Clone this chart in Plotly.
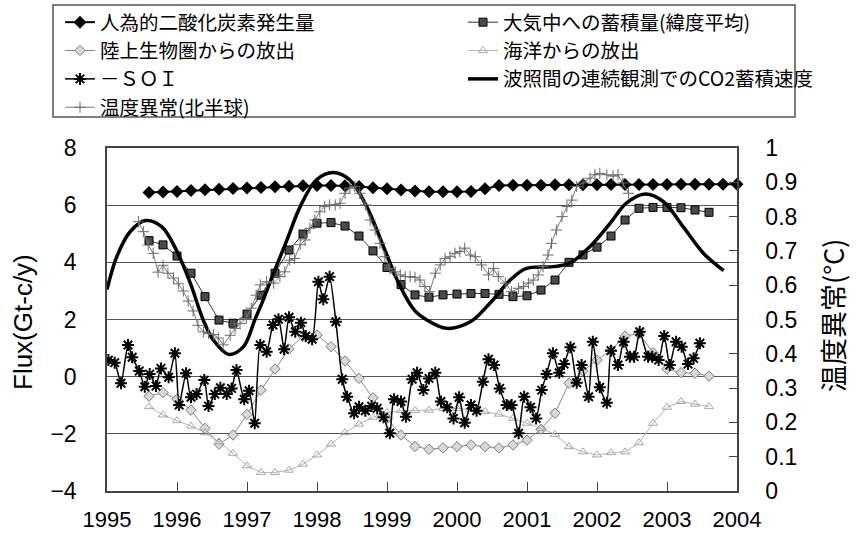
import plotly.graph_objects as go

# ---------------- data ----------------
# decimal-year sampling used by the budget series
years_anthro = [1995.6, 1995.8, 1996.0, 1996.2, 1996.4, 1996.6, 1996.8, 1997.0, 1997.2, 1997.4,
                1997.6, 1997.8, 1998.0, 1998.2, 1998.4, 1998.6, 1998.8, 1999.0, 1999.2, 1999.4,
                1999.6, 1999.8, 2000.0, 2000.2, 2000.4, 2000.6, 2000.8, 2001.0, 2001.2, 2001.4,
                2001.6, 2001.8, 2002.0, 2002.2, 2002.4, 2002.6, 2002.8, 2003.0, 2003.2, 2003.4,
                2003.6, 2003.8, 2004.0]
anthro = [6.44, 6.46, 6.48, 6.51, 6.54, 6.56, 6.58, 6.60, 6.62, 6.64,
          6.66, 6.68, 6.69, 6.69, 6.68, 6.65, 6.61, 6.57, 6.53, 6.50,
          6.47, 6.47, 6.47, 6.48, 6.57, 6.69, 6.70, 6.70, 6.70, 6.71,
          6.71, 6.71, 6.71, 6.72, 6.72, 6.72, 6.72, 6.72, 6.73, 6.73,
          6.73, 6.73, 6.73]

years_budget = [1995.6, 1995.8, 1996.0, 1996.2, 1996.4, 1996.6, 1996.8, 1997.0, 1997.2, 1997.4,
                1997.6, 1997.8, 1998.0, 1998.2, 1998.4, 1998.6, 1998.8, 1999.0, 1999.2, 1999.4,
                1999.6, 1999.8, 2000.0, 2000.2, 2000.4, 2000.6, 2000.8, 2001.0, 2001.2, 2001.4,
                2001.6, 2001.8, 2002.0, 2002.2, 2002.4, 2002.6, 2002.8, 2003.0, 2003.2, 2003.4,
                2003.6]
atmos = [4.76, 4.61, 4.22, 3.62, 2.80, 1.98, 1.87, 2.19, 2.85, 3.62,
         4.43, 4.99, 5.37, 5.39, 5.27, 4.92, 4.40, 3.82, 3.22, 2.86,
         2.78, 2.86, 2.89, 2.91, 2.91, 2.88, 2.80, 2.83, 3.03, 3.38,
         4.00, 4.26, 4.53, 4.92, 5.48, 5.89, 5.92, 5.92, 5.91, 5.83,
         5.75]
land = [-0.68, -0.56, -0.79, -1.17, -1.81, -2.36, -2.04, -1.32, -0.47, 0.27,
        0.97, 1.42, 1.46, 1.05, 0.55, -0.06, -0.74, -1.46, -2.04, -2.44,
        -2.54, -2.49, -2.45, -2.39, -2.45, -2.49, -2.39, -2.22, -1.84, -1.28,
        -0.23, 0.20, 0.58, 0.93, 1.42, 1.51, 0.84, 0.27, 0.14, 0.12,
        0.02]
ocean = [-1.05, -1.34, -1.54, -1.73, -1.96, -2.28, -2.68, -3.12, -3.35, -3.35,
         -3.27, -3.06, -2.74, -2.36, -1.96, -1.66, -1.42, -1.26, -1.19, -1.18,
         -1.17, -1.11, -1.11, -1.15, -1.22, -1.31, -1.46, -1.63, -1.81, -2.02,
         -2.45, -2.63, -2.74, -2.66, -2.63, -2.31, -1.63, -1.07, -0.87, -0.96,
         -1.05]

# -SOI index
years_soi = [1995.02, 1995.11, 1995.20, 1995.30, 1995.36, 1995.46, 1995.54, 1995.61, 1995.70, 1995.77,
             1995.88, 1995.97, 1996.03, 1996.13, 1996.20, 1996.28, 1996.39, 1996.45, 1996.54, 1996.62,
             1996.71, 1996.78, 1996.85, 1996.96, 1997.03, 1997.11, 1997.19, 1997.28, 1997.37, 1997.45,
             1997.53, 1997.60, 1997.69, 1997.77, 1997.84, 1997.93, 1998.02, 1998.09, 1998.18, 1998.27,
             1998.36, 1998.43, 1998.53, 1998.60, 1998.69, 1998.78, 1998.86, 1998.95, 1999.04, 1999.10,
             1999.20, 1999.27, 1999.36, 1999.43, 1999.52, 1999.60, 1999.69, 1999.77, 1999.86, 1999.95,
             2000.03, 2000.11, 2000.20, 2000.28, 2000.37, 2000.45, 2000.53, 2000.61, 2000.71, 2000.78,
             2000.88, 2000.96, 2001.05, 2001.13, 2001.21, 2001.28, 2001.37, 2001.46, 2001.53, 2001.62,
             2001.71, 2001.78, 2001.88, 2001.94, 2002.04, 2002.14, 2002.20, 2002.30, 2002.38, 2002.47,
             2002.53, 2002.61, 2002.73, 2002.79, 2002.88, 2002.96, 2003.04, 2003.13, 2003.21, 2003.30,
             2003.38, 2003.47]
soi = [0.58, 0.49, -0.23, 1.11, 0.68, 0.20, -0.35, 0.09, -0.33, 0.29,
       -0.02, 0.82, -0.99, 0.12, -0.72, -0.61, -0.12, -1.03, -0.61, -0.39,
       -0.61, -0.41, 0.23, -0.79, -0.49, -1.63, 1.11, 0.87, 1.81, 2.01,
       0.96, 2.08, 1.57, 1.89, 1.42, 1.31, 3.32, 2.71, 3.50, 1.92,
       -0.09, -0.70, -1.28, -1.05, -1.19, -1.03, -1.11, -1.42, -1.98, -0.79,
       -0.87, -1.40, -0.09, 0.14, -0.47, -0.06, 0.14, -0.87, -1.07, -1.46,
       -0.72, -1.61, -0.99, -1.19, -0.18, 0.61, 0.41, -0.41, -0.99, -0.99,
       -1.98, -0.70, -1.07, -1.46, -0.47, 0.09, 0.82, 0.14, 0.44, 1.03,
       -0.21, 0.41, -0.70, 1.22, -0.37, -0.91, 0.91, 0.41, 1.22, 0.70,
       0.70, 1.57, 0.70, 0.70, 0.58, 1.42, 0.41, 1.22, 1.05, 0.44,
       0.64, 1.17]

# CO2 accumulation rate from continuous observation at Hateruma
years_hat = [1995.0, 1995.14, 1995.33, 1995.55, 1995.78, 1995.99, 1996.19, 1996.38, 1996.52, 1996.74,
             1996.95, 1997.11, 1997.23, 1997.38, 1997.57, 1997.76, 1997.99, 1998.23, 1998.47, 1998.71,
             1998.95, 1999.19, 1999.40, 1999.57, 1999.85, 2000.19, 2000.47, 2000.76, 2000.99, 2001.38,
             2001.61, 2001.90, 2002.19, 2002.42, 2002.69, 2002.95, 2003.23, 2003.52, 2003.81]
hateruma = [3.05, 4.20, 5.07, 5.46, 5.25, 4.43, 3.27, 1.95, 1.28, 0.78,
            1.05, 1.98, 2.68, 3.62, 4.78, 5.95, 6.88, 7.14, 6.88, 5.95,
            4.55, 3.15, 2.30, 1.98, 1.69, 1.92, 2.57, 3.38, 3.79, 3.85,
            3.97, 4.55, 5.37, 6.07, 6.39, 6.12, 5.25, 4.32, 3.71]

# Northern hemisphere temperature anomaly (degC, right axis)
years_temp = [1995.45, 1995.52, 1995.59, 1995.66, 1995.73, 1995.80, 1995.87, 1995.95, 1996.02, 1996.09,
              1996.16, 1996.23, 1996.30, 1996.38, 1996.45, 1996.52, 1996.59, 1996.66, 1996.76, 1996.83,
              1996.90, 1996.99, 1997.06, 1997.13, 1997.19, 1997.28, 1997.38, 1997.47, 1997.54, 1997.61,
              1997.68, 1997.76, 1997.83, 1997.90, 1997.97, 1998.04, 1998.11, 1998.18, 1998.26, 1998.33,
              1998.40, 1998.47, 1998.54, 1998.61, 1998.69, 1998.76, 1998.83, 1998.90, 1998.97, 1999.04,
              1999.12, 1999.19, 1999.26, 1999.33, 1999.40, 1999.47, 1999.54, 1999.61, 1999.69, 1999.76,
              1999.83, 1999.90, 1999.97, 2000.04, 2000.11, 2000.19, 2000.26, 2000.35, 2000.45, 2000.52,
              2000.59, 2000.69, 2000.78, 2000.88, 2000.95, 2001.02, 2001.09, 2001.16, 2001.23, 2001.30,
              2001.35, 2001.42, 2001.50, 2001.57, 2001.64, 2001.71, 2001.80, 2001.90, 2001.97, 2002.04,
              2002.14, 2002.23, 2002.30, 2002.37, 2002.45]
temp = [0.785, 0.756, 0.717, 0.693, 0.638, 0.658, 0.635, 0.621, 0.604, 0.583,
        0.554, 0.525, 0.483, 0.464, 0.459, 0.456, 0.446, 0.426, 0.454, 0.474,
        0.488, 0.504, 0.533, 0.571, 0.601, 0.610, 0.606, 0.625, 0.639, 0.673,
        0.678, 0.718, 0.732, 0.766, 0.790, 0.814, 0.829, 0.834, 0.834, 0.839,
        0.868, 0.883, 0.888, 0.868, 0.834, 0.790, 0.761, 0.722, 0.683, 0.649,
        0.639, 0.630, 0.625, 0.625, 0.623, 0.615, 0.596, 0.581, 0.635, 0.659,
        0.678, 0.683, 0.693, 0.698, 0.708, 0.688, 0.683, 0.659, 0.630, 0.649,
        0.625, 0.606, 0.581, 0.591, 0.596, 0.606, 0.615, 0.630, 0.654, 0.688,
        0.722, 0.761, 0.800, 0.829, 0.848, 0.888, 0.898, 0.912, 0.922, 0.926,
        0.922, 0.918, 0.922, 0.898, 0.868]

names = ["人為的二酸化炭素発生量", "大気中への蓄積量(緯度平均)", "陸上生物圏からの放出",
         "海洋からの放出", "－ＳＯＩ", "波照間の連続観測でのCO2蓄積速度", "温度異常(北半球)"]

# ---------------- figure ----------------
W, H = 856, 537
ML, MR, MT, MB = 107, 119, 148, 46
PW, PH = W - ML - MR, H - MT - MB


def px_x(p):
    return (p - ML) / PW


def px_y(p):
    return (H - MB - p) / PH


fig = go.Figure()

fig.add_trace(go.Scatter(
    x=years_anthro, y=anthro, name=names[0], mode="lines+markers", cliponaxis=False,
    line=dict(color="black", width=2),
    marker=dict(symbol="diamond", size=10, color="black"),
    legend="legend"))
fig.add_trace(go.Scatter(
    x=years_budget, y=atmos, name=names[1], mode="lines+markers",
    line=dict(color="#333333", width=1),
    marker=dict(symbol="square", size=8, color="#4a4a4a", line=dict(color="black", width=1)),
    legend="legend2"))
fig.add_trace(go.Scatter(
    x=years_budget, y=land, name=names[2], mode="lines+markers",
    line=dict(color="#8a8a8a", width=1),
    marker=dict(symbol="diamond", size=8, color="#d8d8d8", line=dict(color="#7a7a7a", width=1)),
    legend="legend"))
fig.add_trace(go.Scatter(
    x=years_budget, y=ocean, name=names[3], mode="lines+markers",
    line=dict(color="#b4b4b4", width=1),
    marker=dict(symbol="triangle-up-open", size=8, color="#a8a8a8", line=dict(width=1)),
    legend="legend2"))
fig.add_trace(go.Scatter(
    x=years_soi, y=soi, name=names[4], mode="lines+markers",
    line=dict(color="black", width=1.5, shape="spline", smoothing=0.6),
    marker=dict(symbol="asterisk-open", size=10, color="black", line=dict(color="black", width=2)),
    legend="legend"))
fig.add_trace(go.Scatter(
    x=years_hat, y=hateruma, name=names[5], mode="lines",
    line=dict(color="black", width=3.5, shape="spline", smoothing=1.0),
    legend="legend2"))
fig.add_trace(go.Scatter(
    x=years_temp, y=temp, name=names[6], mode="lines+markers", yaxis="y2",
    line=dict(color="#7a7a7a", width=1),
    marker=dict(symbol="cross-thin-open", size=8, color="#6a6a6a", line=dict(color="#6a6a6a", width=1)),
    legend="legend"))

tick_font = dict(family="Liberation Sans, Arial, sans-serif", size=23, color="black")
xtick_font = dict(family="Liberation Sans, Arial, sans-serif", size=22, color="black")
jp_font = "Noto Sans CJK JP, sans-serif"

fig.update_layout(
    width=W, height=H,
    margin=dict(l=ML, r=MR, t=MT, b=MB, autoexpand=False),
    paper_bgcolor="white", plot_bgcolor="white",
    showlegend=True,
    xaxis=dict(range=[1995, 2004], dtick=1, tick0=1995, tickformat="d",
               ticks="inside", ticklen=9, tickcolor="#444", tickwidth=1,
               showgrid=False, zeroline=False,
               showline=True, linecolor="#444", linewidth=1.5, mirror=True,
               tickfont=xtick_font, ticklabelstandoff=8),
    yaxis=dict(range=[-4, 8], dtick=2, tick0=-4, ticks="",
               showgrid=True, gridcolor="#555555", gridwidth=1, zeroline=False,
               showline=True, linecolor="#444", linewidth=1.5, mirror=True,
               tickfont=tick_font, ticklabelstandoff=24),
    yaxis2=dict(range=[0, 1], dtick=0.1, tick0=0, overlaying="y", side="right",
                ticks="inside", ticklen=8, tickcolor="#444", tickwidth=1,
                showgrid=False, zeroline=False,
                showline=True, linecolor="#444", linewidth=1.5,
                tickfont=tick_font, ticklabelstandoff=22),
    legend=dict(x=px_x(60), y=px_y(3), xanchor="left", yanchor="top",
                orientation="v", bgcolor="rgba(0,0,0,0)", borderwidth=0,
                font=dict(family=jp_font, size=19.5, color="black")),
    legend2=dict(x=px_x(463), y=px_y(3), xanchor="left", yanchor="top",
                 orientation="v", bgcolor="rgba(0,0,0,0)", borderwidth=0,
                 font=dict(family=jp_font, size=19.5, color="black")),
    shapes=[dict(type="rect", xref="paper", yref="paper",
                 x0=px_x(53), x1=px_x(795), y0=px_y(117), y1=px_y(5),
                 line=dict(color="#555555", width=1.5), fillcolor="rgba(0,0,0,0)")],
    annotations=[
        dict(text="Flux(Gt-c/y)", xref="paper", yref="paper", x=px_x(23), y=px_y(322),
             textangle=-90, showarrow=False, xanchor="center", yanchor="middle",
             font=dict(family="Liberation Sans, Arial, sans-serif", size=26, color="black")),
        dict(text="温度異常(°C)", xref="paper", yref="paper", x=px_x(832), y=px_y(315),
             textangle=-90, showarrow=False, xanchor="center", yanchor="middle",
             font=dict(family=jp_font, size=27, color="black")),
    ],
)

fig.write_html("out.html")
